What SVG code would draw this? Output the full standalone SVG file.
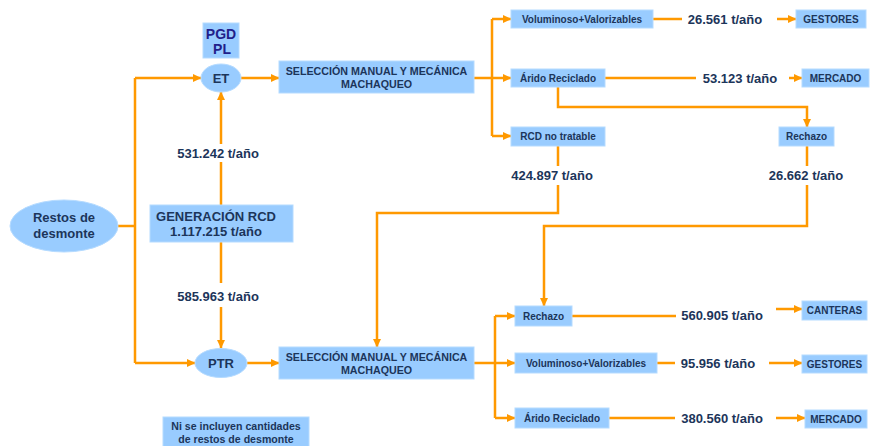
<svg xmlns="http://www.w3.org/2000/svg" width="872" height="446" viewBox="0 0 872 446">
  <defs>
    <marker id="arr" markerWidth="9" markerHeight="9" refX="8" refY="4.5" orient="auto" markerUnits="userSpaceOnUse">
      <path d="M0,0.5 L8.5,4.5 L0,8.5 Z" fill="#ff9900"/>
    </marker>
    <style>
      .box { fill: #99ccff; stroke: #b5dbff; stroke-width: 1; }
      .ell { fill: #99ccff; stroke: #b5dbff; stroke-width: 1; }
      .t { font-family: "Liberation Sans", Arial, sans-serif; font-weight: bold; fill: #1c355a; text-anchor: middle; }
      .s { font-size: 10px; }
      .n { font-size: 10.6px; }
      .m { font-size: 10.7px; }
      .q { font-size: 13px; }
      .pgd { font-family: "Liberation Sans", Arial, sans-serif; font-weight: bold; fill: #221f8a; text-anchor: middle; font-size: 14px; }
      .c { fill: none; stroke: #ff9900; stroke-width: 2.5; }
      .ca { fill: none; stroke: #ff9900; stroke-width: 2.5; marker-end: url(#arr); }
      .lbl { fill: #ffffff; }
    </style>
  </defs>

  <!-- connectors -->
  <g id="connectors">
    <!-- trunk from Restos de desmonte -->
    <path class="c" d="M118,226 H135"/>
    <path class="c" d="M135,78 V363"/>
    <path class="ca" d="M135,78 H201"/>
    <path class="ca" d="M135,363 H195"/>
    <!-- generation to ET / PTR -->
    <path class="ca" d="M221,205 V92"/>
    <path class="ca" d="M221,242 V348"/>
    <!-- ET / PTR to selection -->
    <path class="ca" d="M241,78 H279"/>
    <path class="ca" d="M247,363 H279"/>
    <!-- upper branch -->
    <path class="c" d="M474,78 H492 M492,19 V136"/>
    <path class="ca" d="M492,19 H511"/>
    <path class="ca" d="M492,78 H511"/>
    <path class="ca" d="M492,136 H511"/>
    <path class="c" d="M653,19 H682"/>
    <path class="ca" d="M777,19 H796"/>
    <path class="c" d="M605,78 H696"/>
    <path class="ca" d="M789,78 H802"/>
    <path class="ca" d="M558,87 V107 H807 V127"/>
    <!-- cross links to lower line -->
    <path class="ca" d="M558,146 V213 H377 V347"/>
    <path class="ca" d="M807,146 V226 H544 V306"/>
    <!-- lower branch -->
    <path class="c" d="M474,363 H495 M495,316 V418"/>
    <path class="ca" d="M495,316 H515"/>
    <path class="ca" d="M495,363 H515"/>
    <path class="ca" d="M495,418 H515"/>
    <path class="c" d="M572,316 H676"/>
    <path class="ca" d="M776,309 H802"/>
    <path class="c" d="M657,363 H675"/>
    <path class="ca" d="M769,363 H802"/>
    <path class="c" d="M609,418 H675"/>
    <path class="ca" d="M776,418 H805"/>
  </g>

  <!-- quantity labels on vertical lines -->
  <g id="labels">
    <rect class="lbl" x="172" y="144" width="94" height="18"/>
    <text class="t q" x="218" y="158">531.242 t/año</text>
    <rect class="lbl" x="170" y="283" width="100" height="24"/>
    <text class="t q" x="218" y="301">585.963 t/año</text>
    <rect class="lbl" x="505" y="166" width="94" height="19"/>
    <text class="t q" x="552" y="180">424.897 t/año</text>
    <rect class="lbl" x="764" y="166" width="86" height="19"/>
    <text class="t q" x="806" y="180">26.662 t/año</text>
    <text class="t q" x="725" y="24">26.561 t/año</text>
    <text class="t q" x="740" y="83">53.123 t/año</text>
    <text class="t q" x="722" y="320">560.905 t/año</text>
    <text class="t q" x="718" y="368">95.956 t/año</text>
    <text class="t q" x="722" y="423">380.560 t/año</text>
  </g>

  <g id="restos">
    <ellipse class="ell" cx="64" cy="226" rx="54" ry="26"/>
    <text class="t q" x="64" y="222">Restos de</text>
    <text class="t q" x="64" y="238">desmonte</text>
  </g>

  <g id="pgd">
    <rect class="box" x="203" y="23" width="36" height="35"/>
    <text class="pgd" x="221" y="39">PGD</text>
    <text class="pgd" x="222" y="54">PL</text>
  </g>

  <g id="et">
    <ellipse class="ell" cx="221" cy="78" rx="20" ry="14"/>
    <text class="t q" x="221" y="83">ET</text>
  </g>

  <g id="generacion">
    <rect class="box" x="150" y="205" width="143" height="37"/>
    <text class="t q" x="216" y="221">GENERACIÓN RCD</text>
    <text class="t q" x="216" y="236">1.117.215 t/año</text>
  </g>

  <g id="ptr">
    <ellipse class="ell" cx="221" cy="363" rx="26" ry="14.5"/>
    <text class="t q" x="221" y="368">PTR</text>
  </g>

  <g id="seleccion-et">
    <rect class="box" x="279" y="61" width="195" height="32"/>
    <text class="t m" x="376.5" y="75">SELECCIÓN MANUAL Y MECÁNICA</text>
    <text class="t m" x="376.5" y="88">MACHAQUEO</text>
  </g>

  <g id="seleccion-ptr">
    <rect class="box" x="279" y="347" width="195" height="32"/>
    <text class="t m" x="376.5" y="361">SELECCIÓN MANUAL Y MECÁNICA</text>
    <text class="t m" x="376.5" y="374">MACHAQUEO</text>
  </g>

  <g id="voluminoso-et">
    <rect class="box" x="511" y="10" width="142" height="18"/>
    <text class="t s" x="582" y="23">Voluminoso+Valorizables</text>
  </g>
  <g id="arido-et">
    <rect class="box" x="511" y="69" width="94" height="18"/>
    <text class="t s" x="558" y="82">Árido Reciclado</text>
  </g>
  <g id="rcd-no-tratable">
    <rect class="box" x="511" y="127" width="94" height="19"/>
    <text class="t s" x="558" y="140">RCD no tratable</text>
  </g>
  <g id="rechazo-et">
    <rect class="box" x="779" y="127" width="55" height="19"/>
    <text class="t s" x="806.5" y="140">Rechazo</text>
  </g>
  <g id="gestores-et">
    <rect class="box" x="796" y="10" width="70" height="18"/>
    <text class="t s" x="831" y="23">GESTORES</text>
  </g>
  <g id="mercado-et">
    <rect class="box" x="802" y="69" width="67" height="18"/>
    <text class="t s" x="835.5" y="82">MERCADO</text>
  </g>

  <g id="rechazo-ptr">
    <rect class="box" x="515" y="306" width="57" height="20"/>
    <text class="t s" x="543.5" y="320">Rechazo</text>
  </g>
  <g id="voluminoso-ptr">
    <rect class="box" x="515" y="353" width="142" height="20"/>
    <text class="t s" x="586" y="367">Voluminoso+Valorizables</text>
  </g>
  <g id="arido-ptr">
    <rect class="box" x="515" y="408" width="94" height="20"/>
    <text class="t s" x="562" y="422">Árido Reciclado</text>
  </g>
  <g id="canteras">
    <rect class="box" x="802" y="301" width="65" height="19"/>
    <text class="t s" x="834.5" y="314">CANTERAS</text>
  </g>
  <g id="gestores-ptr">
    <rect class="box" x="802" y="355" width="65" height="18"/>
    <text class="t s" x="834.5" y="368">GESTORES</text>
  </g>
  <g id="mercado-ptr">
    <rect class="box" x="805" y="410" width="62" height="18"/>
    <text class="t s" x="836" y="423">MERCADO</text>
  </g>

  <g id="nota">
    <rect class="box" x="163" y="417" width="146" height="36"/>
    <text class="t n" x="236" y="430">Ni se incluyen cantidades</text>
    <text class="t n" x="236" y="443">de restos de desmonte</text>
  </g>
</svg>
